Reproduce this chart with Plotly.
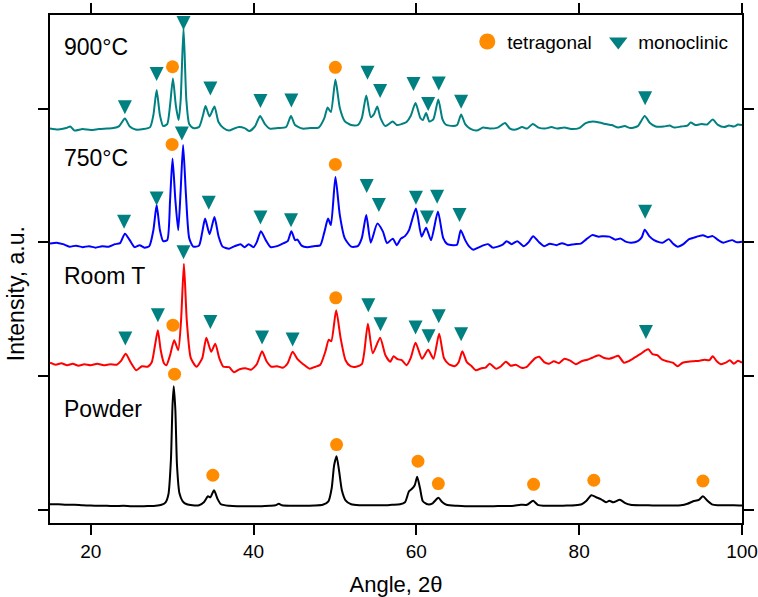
import plotly.graph_objects as go

# ---------------- data (intensity, arbitrary units, stacked) ----------------
angle_900 = [15.0, 16.0, 17.0, 17.5, 18.0, 19.0, 20.0, 21.0, 22.0, 22.8, 23.5, 24.2, 24.8, 25.5, 26.5, 27.3, 27.7, 28.1, 28.5, 28.9,
             29.4, 29.75, 30.1, 30.45, 30.8, 31.05, 31.4, 31.75, 32.1, 32.6, 33.3, 33.8, 34.1, 34.6, 35.2, 35.7, 36.3, 37.0, 37.6, 38.2,
             38.9, 39.5, 40.2, 40.8, 41.4, 42.0, 43.0, 44.0, 44.6, 45.1, 46.0, 47.0, 48.0, 48.7, 49.1, 49.5, 50.06, 50.6, 51.2, 52.0,
             52.8, 53.3, 53.85, 54.4, 54.8, 55.2, 55.6, 56.2, 57.1, 57.6, 58.2, 58.8, 59.3, 59.9, 60.5, 60.8, 61.2, 61.6, 62.1, 62.7,
             63.2, 63.6, 64.5, 65.0, 65.5, 66.0, 66.6, 67.4, 68.2, 69.0, 70.0, 70.9, 71.5, 72.2, 73.0, 73.6, 74.3, 75.0, 75.8, 76.6,
             77.3, 78.2, 79.0, 80.0, 80.8, 81.7, 82.5, 83.3, 84.0, 84.8, 85.6, 86.3, 87.2, 88.05, 88.7, 89.4, 90.4, 91.1, 91.7, 92.5,
             93.3, 93.7, 94.3, 95.0, 95.7, 96.4, 97.0, 97.8, 98.4, 99.0, 99.5, 100.0]
int_900 = [380.8, 379.8, 381.3, 382.8, 378.8, 380.3, 379.3, 380.3, 380.8, 381.3, 383.3, 390.8, 382.8, 379.8, 380.3, 382.3, 394.3, 419.3, 394.3, 383.3,
           385.3, 404.3, 430.8, 404.3, 389.3, 409.3, 481.3, 409.3, 385.3, 381.3, 382.3, 394.3, 403.3, 392.8, 402.8, 387.3, 381.3, 378.8, 380.8, 382.3,
           381.3, 378.3, 383.3, 393.3, 385.3, 380.8, 381.3, 382.3, 393.3, 384.3, 380.8, 381.3, 381.8, 391.3, 401.8, 397.3, 429.8, 401.3, 388.3, 384.3,
           384.3, 391.3, 413.8, 392.3, 395.3, 402.8, 391.3, 383.3, 387.8, 384.3, 385.3, 387.3, 393.3, 406.3, 391.3, 389.3, 396.3, 387.8, 390.3, 409.8,
           390.3, 384.8, 383.3, 384.3, 394.8, 385.3, 380.8, 378.8, 381.8, 380.8, 381.8, 386.3, 380.8, 379.8, 382.3, 380.8, 385.3, 381.8, 380.8, 382.3,
           380.8, 381.8, 380.3, 381.3, 386.3, 387.8, 386.8, 385.3, 384.3, 381.8, 383.3, 381.3, 383.3, 393.3, 386.3, 382.8, 382.8, 383.8, 381.8, 382.8,
           383.8, 386.8, 384.3, 385.3, 384.8, 389.8, 384.8, 382.3, 383.8, 382.8, 384.8, 384.3]

angle_750 = [15.0, 15.8, 16.6, 17.4, 18.2, 19.0, 19.8, 20.6, 21.4, 22.2, 23.0, 23.6, 24.2, 24.8, 25.4, 26.0, 26.6, 27.2, 27.7, 28.1,
             28.5, 28.9, 29.4, 29.75, 30.05, 30.4, 30.75, 31.05, 31.35, 31.7, 32.1, 32.6, 33.3, 33.7, 34.05, 34.6, 35.2, 35.7, 36.2, 37.0,
             37.7, 38.4, 38.9, 39.4, 40.0, 40.4, 40.9, 41.5, 42.1, 42.9, 43.7, 44.2, 44.65, 45.1, 45.4, 45.9, 46.6, 47.4, 48.2, 48.7,
             49.15, 49.5, 50.06, 50.6, 51.2, 52.0, 52.8, 53.3, 53.85, 54.4, 55.2, 55.9, 56.4, 57.1, 57.6, 58.1, 58.6, 59.1, 59.95, 60.65,
             61.2, 61.8, 62.65, 63.3, 63.8, 64.5, 65.0, 65.45, 66.0, 66.5, 67.0, 67.6, 68.3, 68.8, 69.4, 70.0, 70.6, 71.1, 71.7, 72.4,
             73.2, 73.8, 74.35, 75.0, 75.7, 76.4, 77.2, 77.9, 78.6, 79.4, 80.2, 80.9, 81.6, 82.4, 83.1, 83.7, 84.4, 85.1, 85.7, 86.4,
             87.2, 87.7, 88.05, 88.6, 89.2, 89.8, 90.3, 91.0, 91.6, 92.1, 92.8, 93.5, 94.1, 94.7, 95.2, 95.8, 96.4, 97.0, 97.7, 98.3,
             98.8, 99.3, 100.0]
int_750 = [265.8, 266.8, 265.3, 262.8, 263.8, 262.3, 263.3, 261.8, 263.3, 262.8, 265.3, 266.3, 275.8, 269.3, 262.3, 264.3, 261.8, 263.3, 279.3, 304.3,
           279.3, 268.3, 269.3, 309.3, 350.8, 309.3, 279.3, 319.3, 364.3, 314.3, 271.3, 262.8, 263.8, 277.3, 290.8, 275.3, 292.3, 273.3, 262.8, 260.8,
           263.3, 265.3, 262.3, 265.3, 262.3, 267.3, 278.3, 269.3, 262.3, 263.3, 266.3, 268.3, 278.3, 269.3, 269.8, 263.8, 262.3, 263.3, 264.3, 277.3,
           290.8, 284.3, 332.3, 294.3, 271.3, 262.8, 263.3, 271.3, 294.3, 266.8, 285.8, 277.8, 266.3, 270.8, 264.3, 270.8, 273.3, 279.3, 300.8, 272.8,
           281.8, 269.3, 297.8, 271.3, 265.3, 264.3, 264.8, 279.3, 269.3, 262.8, 259.8, 261.8, 264.3, 265.3, 261.8, 262.8, 264.8, 268.3, 265.3, 268.3,
           263.3, 267.3, 273.3, 267.8, 263.3, 265.8, 264.3, 266.3, 264.3, 265.3, 265.8, 270.3, 274.3, 272.8, 273.3, 272.8, 269.8, 270.8, 267.8, 266.8,
           268.3, 272.3, 279.8, 273.3, 269.3, 267.3, 266.8, 270.3, 265.3, 262.8, 265.3, 270.3, 271.8, 273.3, 274.3, 272.3, 273.3, 269.8, 266.8, 268.3,
           269.3, 267.3, 267.8]

angle_rt = [15.0, 15.7, 16.4, 17.1, 17.8, 18.5, 19.2, 20.0, 20.8, 21.6, 22.4, 23.2, 23.7, 24.3, 24.9, 25.6, 26.3, 27.0, 27.5, 27.9,
            28.25, 28.6, 29.0, 29.3, 29.75, 30.25, 30.75, 31.1, 31.45, 31.8, 32.3, 33.0, 33.7, 34.2, 34.8, 35.3, 35.8, 36.3, 37.0, 37.6,
            38.3, 39.0, 39.7, 40.4, 41.05, 41.6, 42.2, 42.9, 43.6, 44.2, 44.8, 45.4, 46.1, 46.9, 47.6, 48.2, 48.8, 49.25, 49.55, 50.15,
            50.7, 51.3, 51.9, 52.6, 53.3, 53.6, 54.05, 54.65, 55.55, 56.2, 56.8, 57.2, 57.7, 58.2, 58.8, 59.3, 59.9, 60.7, 61.45, 62.1,
            62.8, 63.4, 64.0, 64.7, 65.2, 65.65, 66.2, 66.8, 67.3, 68.0, 68.5, 69.0, 69.8, 70.4, 71.0, 71.6, 72.2, 72.9, 73.5, 74.1,
            74.6, 75.1, 75.7, 76.3, 76.9, 77.5, 78.2, 78.9, 79.6, 80.3, 81.0, 81.6, 82.4, 83.0, 83.7, 84.3, 84.8, 85.5, 86.1, 86.9,
            87.5, 88.1, 88.5, 89.0, 89.6, 90.2, 90.8, 91.5, 92.1, 92.7, 93.4, 94.1, 94.8, 95.4, 96.0, 96.4, 96.9, 97.4, 98.0, 98.5,
            99.0, 99.5, 100.0]
int_rt = [146.8, 144.8, 146.3, 144.3, 145.8, 143.8, 145.3, 144.3, 145.8, 144.3, 145.3, 144.8, 148.3, 155.8, 147.3, 139.3, 143.3, 142.8, 147.3, 164.3,
          179.3, 159.3, 146.3, 144.3, 154.3, 169.3, 159.3, 189.3, 245.8, 189.3, 151.3, 142.8, 151.3, 171.8, 157.8, 165.8, 151.3, 142.8, 142.3, 137.3,
          140.3, 141.3, 139.8, 145.3, 158.3, 148.3, 142.8, 143.3, 141.8, 146.3, 157.8, 150.3, 145.3, 140.8, 142.8, 144.8, 157.3, 169.8, 168.3, 199.3,
          171.3, 149.3, 143.3, 142.8, 145.3, 157.3, 185.8, 156.3, 171.8, 154.3, 147.8, 153.3, 150.3, 149.3, 144.3, 151.3, 166.8, 150.8, 159.8, 150.8,
          175.8, 151.3, 145.3, 143.3, 147.3, 158.3, 147.3, 143.3, 139.3, 141.3, 141.8, 145.8, 140.8, 143.3, 147.8, 143.8, 144.8, 141.8, 142.3, 147.3,
          151.3, 152.8, 147.3, 145.8, 148.3, 146.3, 150.8, 148.8, 145.3, 148.3, 149.8, 151.8, 154.3, 151.8, 150.8, 152.3, 153.8, 146.8, 148.3, 152.3,
          155.3, 158.8, 160.3, 155.3, 154.3, 149.8, 148.3, 146.8, 143.3, 146.8, 147.8, 148.3, 148.8, 149.8, 149.3, 153.3, 148.3, 145.3, 146.8, 149.3,
          145.8, 148.8, 146.8]

angle_powder = [15.0, 16.0, 17.0, 18.0, 19.0, 20.0, 21.0, 22.0, 23.0, 24.0, 25.0, 26.0, 27.0, 28.0, 28.7, 29.2, 29.55, 29.85, 30.05, 30.2,
                30.4, 30.6, 30.9, 31.3, 31.8, 32.5, 33.3, 33.9, 34.4, 34.7, 35.15, 35.6, 36.0, 37.0, 38.0, 39.0, 40.0, 41.0, 42.0, 42.7,
                43.1, 43.5, 44.5, 45.5, 46.5, 47.5, 48.5, 49.2, 49.6, 49.9, 50.2, 50.5, 50.85, 51.3, 52.0, 53.0, 54.0, 55.0, 56.0, 57.0,
                58.0, 58.6, 59.1, 59.4, 59.8, 60.1, 60.45, 60.8, 61.4, 62.0, 62.7, 63.2, 63.7, 65.0, 66.0, 67.0, 68.0, 69.0, 70.0, 71.0,
                72.0, 72.8, 73.6, 74.35, 74.9, 75.6, 76.5, 77.5, 78.5, 79.5, 80.3, 80.9, 81.5, 82.1, 82.7, 83.3, 83.7, 84.2, 85.0, 85.6,
                86.3, 87.5, 88.5, 89.5, 90.5, 91.5, 92.5, 93.3, 94.0, 94.7, 95.2, 95.7, 96.3, 97.0, 98.0, 99.0, 100.0]
int_powder = [5.3, 5.3, 4.8, 4.8, 4.3, 4.0, 3.8, 3.8, 3.5, 3.8, 3.3, 3.3, 3.5, 3.8, 4.8, 7.3, 15.3, 49.3, 104.3, 123.3,
              99.3, 44.3, 16.3, 8.3, 5.3, 4.3, 4.3, 7.3, 13.3, 12.3, 19.3, 10.3, 5.3, 3.8, 3.3, 3.3, 3.3, 3.3, 3.8, 4.3,
              5.8, 4.3, 3.8, 3.8, 3.8, 4.0, 4.8, 8.3, 21.3, 44.3, 53.3, 39.3, 19.3, 9.3, 5.3, 4.3, 4.3, 4.3, 4.3, 4.8,
              5.3, 7.3, 18.3, 20.3, 24.3, 32.8, 21.3, 8.3, 5.3, 6.3, 11.8, 7.3, 4.8, 3.8, 3.3, 3.3, 3.3, 3.3, 3.5, 3.5,
              3.8, 4.8, 4.8, 8.8, 4.8, 3.8, 3.8, 3.8, 4.0, 4.3, 5.3, 8.8, 14.3, 12.3, 10.3, 7.3, 8.8, 7.3, 9.8, 6.8,
              4.8, 4.3, 4.3, 4.0, 4.0, 4.0, 4.3, 5.8, 8.3, 9.8, 13.3, 9.3, 5.3, 4.3, 4.3, 4.3, 4.0]

# phase marks (tip positions)
mono_900_x = [24.2, 28.1, 31.4, 34.7, 40.85, 44.65, 54.0, 55.55, 59.65, 61.45, 62.75, 65.5, 88.1]
mono_900_y = [395.0, 428.3, 479.3, 413.8, 401.3, 401.8, 429.6, 411.3, 418.3, 398.3, 418.8, 400.6, 404.0]
tet_900_x = [30.05, 50.05]
tet_900_y = [442.6, 442.0]

mono_750_x = [24.1, 28.1, 31.2, 34.5, 40.85, 44.6, 53.9, 55.4, 59.95, 61.3, 62.55, 65.3, 88.1]
mono_750_y = [280.6, 304.0, 368.8, 299.6, 285.0, 282.3, 316.3, 297.3, 304.6, 285.0, 305.6, 287.3, 290.6]
tet_750_x = [30.0, 50.05]
tet_750_y = [365.0, 345.0]

mono_rt_x = [24.25, 28.25, 31.4, 34.7, 41.05, 44.8, 54.1, 55.6, 59.9, 61.5, 62.75, 65.5, 88.2]
mono_rt_y = [164.0, 187.3, 250.3, 180.6, 165.0, 163.0, 197.3, 178.3, 175.0, 166.3, 186.3, 168.3, 170.6]
tet_rt_x = [30.1, 50.1]
tet_rt_y = [184.3, 211.6]

tet_powder_x = [30.3, 35.0, 50.2, 60.2, 62.7, 74.4, 81.8, 95.2]
tet_powder_y = [135.3, 34.3, 65.0, 48.3, 26.0, 25.3, 29.3, 28.6]

sample_labels = ["900°C", "750°C", "Room T", "Powder"]
label_y = [462.3, 351.3, 233.3, 100.3]
x_ticks = [20, 40, 60, 80, 100]

# ---------------- styling ----------------
FONT = "Liberation Sans, Arial, sans-serif"
TEAL = "#008080"
ORANGE = "#FF8C00"

fig = go.Figure()

series = [
    (angle_900, int_900, TEAL),
    (angle_750, int_750, "#0000FF"),
    (angle_rt, int_rt, "#FF0000"),
    (angle_powder, int_powder, "#000000"),
]
for ax, iy, col in series:
    fig.add_trace(go.Scatter(x=ax, y=iy, mode="lines", line=dict(color=col, width=2, shape="spline", smoothing=0.6),
                             showlegend=False, hoverinfo="skip"))

for mx, my in [(mono_900_x, mono_900_y), (mono_750_x, mono_750_y), (mono_rt_x, mono_rt_y)]:
    fig.add_trace(go.Scatter(x=mx, y=my, mode="markers",
                             marker=dict(symbol="arrow-down", size=14, color=TEAL, line=dict(width=0)),
                             showlegend=False))
for tx, ty in [(tet_900_x, tet_900_y), (tet_750_x, tet_750_y), (tet_rt_x, tet_rt_y), (tet_powder_x, tet_powder_y)]:
    fig.add_trace(go.Scatter(x=tx, y=ty, mode="markers",
                             marker=dict(symbol="circle", size=13, color=ORANGE, line=dict(width=0)),
                             showlegend=False))

# legend entries
fig.add_trace(go.Scatter(x=[None], y=[None], mode="markers", name="tetragonal",
                         marker=dict(symbol="circle", size=16, color=ORANGE, line=dict(width=0))))
fig.add_trace(go.Scatter(x=[None], y=[None], mode="markers", name="monoclinic",
                         marker=dict(symbol="triangle-down", size=16, color=TEAL, line=dict(width=0))))

for txt, yy in zip(sample_labels, label_y):
    fig.add_annotation(x=16.5, y=yy, xref="x", yref="y", text=txt, showarrow=False,
                       xanchor="left", yanchor="middle", font=dict(family=FONT, size=23, color="black"))

fig.add_annotation(xref="paper", yref="y", x=-0.048, y=216.0, text="Intensity, a.u.", textangle=-90,
                   showarrow=False, xanchor="center", yanchor="middle",
                   font=dict(family=FONT, size=23, color="black"))

YR = [-13.4, 494.3]
YSTEP = 66.8
axis_common = dict(showgrid=False, zeroline=False, showline=True, linecolor="black", linewidth=2,
                   tickcolor="black", tickwidth=2, automargin=False)

fig.update_layout(
    width=758, height=597,
    margin=dict(l=50, r=16, t=15, b=74),
    paper_bgcolor="white", plot_bgcolor="white",
    font=dict(family=FONT, size=19, color="black"),
    showlegend=True,
    legend=dict(orientation="h", x=0.603, y=0.985, xanchor="left", yanchor="top",
                bgcolor="rgba(0,0,0,0)", font=dict(family=FONT, size=19), entrywidth=86,
                itemsizing="trace"),
    xaxis=dict(range=[15, 100], tickvals=x_ticks, ticks="outside", ticklen=10, mirror="ticks",
               title=dict(text="Angle, 2θ", font=dict(family=FONT, size=22), standoff=16),
               tickfont=dict(family=FONT, size=19), **axis_common),
    xaxis2=dict(range=[15, 100], overlaying="x", anchor="y", tickvals=x_ticks, ticks="inside", ticklen=10,
                mirror="ticks", showticklabels=False,
                minor=dict(dtick=10, tick0=0, ticks="inside", ticklen=7, tickwidth=2, tickcolor="black"),
                **axis_common),
    yaxis=dict(range=YR, tick0=0, dtick=2 * YSTEP, ticks="outside", ticklen=10, mirror="ticks",
               showticklabels=False, **axis_common),
    yaxis2=dict(range=YR, overlaying="y", anchor="x", tick0=0, dtick=2 * YSTEP, ticks="inside", ticklen=10,
                mirror="ticks", showticklabels=False,
                minor=dict(dtick=YSTEP, tick0=0, ticks="inside", ticklen=6, tickwidth=2, tickcolor="black"),
                **axis_common),
)

fig.write_html("out.html")
